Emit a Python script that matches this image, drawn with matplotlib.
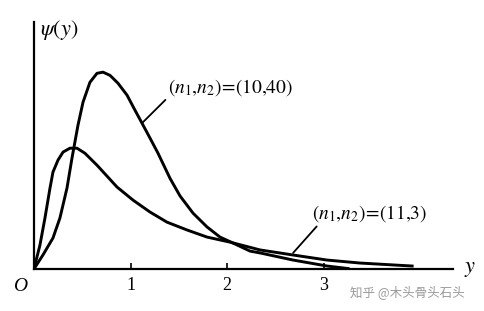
import matplotlib
matplotlib.use("Agg")
import matplotlib.pyplot as plt

plt.rcParams["font.family"] = ["Liberation Serif", "DejaVu Serif"]
plt.rcParams["mathtext.fontset"] = "stix"

# values (x in units of y, height in density units)
x_10_40 = [0.0, 0.093, 0.197, 0.269, 0.342, 0.394, 0.456, 0.508, 0.580, 0.653,
           0.715, 0.788, 0.870, 0.964, 1.047, 1.119, 1.202, 1.285, 1.409,
           1.513, 1.648, 1.793, 1.927, 2.062, 2.238, 2.342, 2.684, 3.036, 3.254]
y_10_40 = [0.0, 0.061, 0.135, 0.222, 0.352, 0.483, 0.626, 0.726, 0.813, 0.852,
           0.857, 0.843, 0.809, 0.757, 0.691, 0.635, 0.570, 0.504, 0.395,
           0.318, 0.243, 0.183, 0.139, 0.113, 0.078, 0.070, 0.039, 0.013, 0.002]

x_11_3 = [0.0, 0.062, 0.114, 0.166, 0.197, 0.249, 0.301, 0.373, 0.446, 0.528,
          0.653, 0.860, 1.026, 1.202, 1.378, 1.585, 1.793, 2.031, 2.342,
          2.684, 3.036, 3.378, 3.917]
y_11_3 = [0.0, 0.104, 0.222, 0.352, 0.422, 0.474, 0.509, 0.526, 0.526, 0.504,
          0.452, 0.357, 0.300, 0.248, 0.204, 0.170, 0.139, 0.117, 0.083,
          0.061, 0.039, 0.026, 0.013]

xticks = [1, 2, 3]

fig = plt.figure(figsize=(4.85, 3.11), dpi=100)
ax = fig.add_axes([0.070, 0.135, 0.864, 0.794])

ax.plot(x_10_40, y_10_40, color="black", lw=2.1, solid_joinstyle="round")
ax.plot(x_11_3, y_11_3, color="black", lw=2.1, solid_joinstyle="round")

ax.set_xlim(0, 4.34)
ax.set_ylim(0, 1.075)
for s in ["top", "right"]:
    ax.spines[s].set_visible(False)
ax.spines["left"].set_linewidth(1.6)
ax.spines["bottom"].set_linewidth(1.6)
ax.set_xticks(xticks)
ax.set_xticklabels([str(t) for t in xticks], fontsize=13)
ax.tick_params(axis="x", direction="in", length=4, width=1.2, pad=6)
ax.set_yticks([])

ax.text(-0.14, -0.04, "O", fontsize=14, style="italic", ha="center", va="top")
ax.text(4.52, 0.0, "$y$", fontsize=16, ha="center", va="center")
ax.text(0.06, 1.04, r"$\psi(y)$", fontsize=16, ha="left", va="center")

ax.annotate(r"$(n_1{,}n_2)\!=\!(10{,}40)$", xy=(1.119, 0.635), xytext=(1.39, 0.79),
            fontsize=14, ha="left", va="center",
            arrowprops=dict(arrowstyle="-", color="black", lw=1.3,
                            shrinkA=0, shrinkB=0, relpos=(0.01, 0.1)))
ax.annotate(r"$(n_1{,}n_2)\!=\!(11{,}3)$", xy=(2.684, 0.070), xytext=(2.88, 0.243),
            fontsize=14, ha="left", va="center",
            arrowprops=dict(arrowstyle="-", color="black", lw=1.3,
                            shrinkA=0, shrinkB=0, relpos=(0.07, 0.05)))

fig.text(0.84, 0.06, "知乎 @木头骨头石头", fontsize=9, color="#9a9a9a",
         ha="center", va="center", family=["Noto Sans CJK SC", "DejaVu Sans"])

fig.savefig("out.png", dpi=100, facecolor="white")
